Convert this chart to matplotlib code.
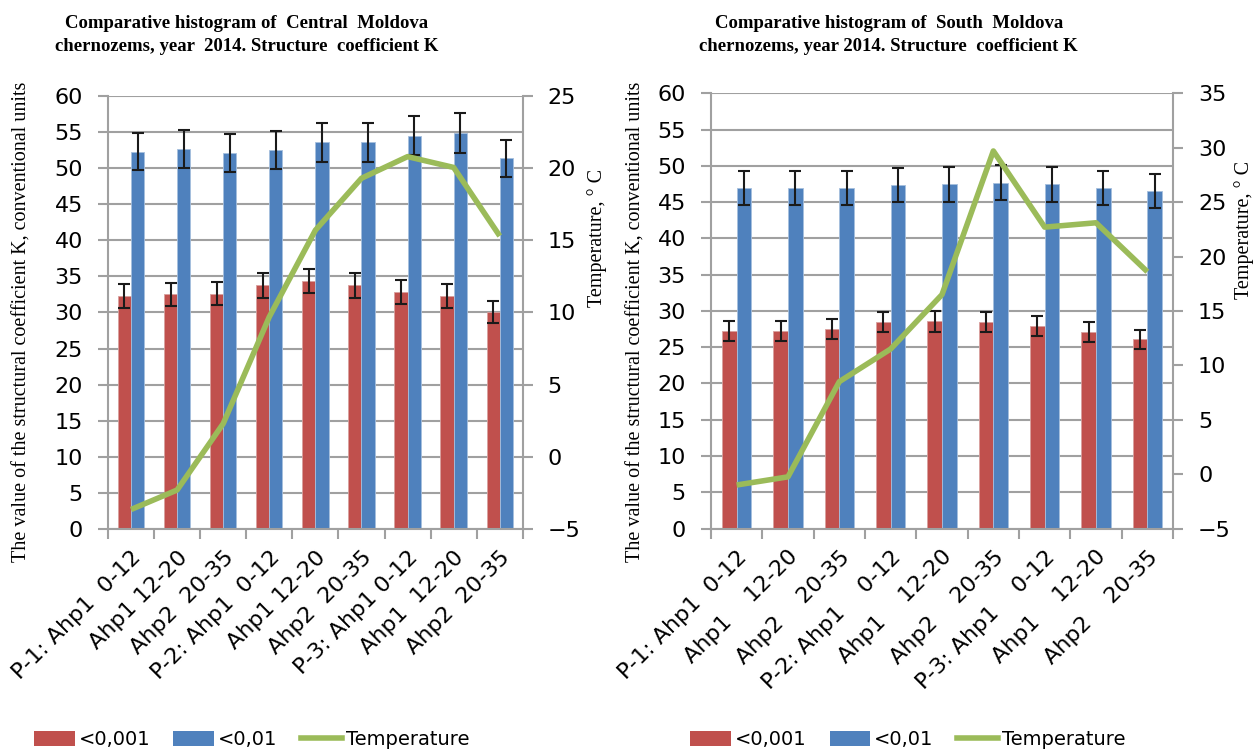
import numpy as np
import matplotlib
matplotlib.use('Agg')
import matplotlib.pyplot as plt
from matplotlib.patches import Patch
from matplotlib.lines import Line2D

# values (structure coefficient K, temperature)
labels_central = ['P-1: Ahp1  0-12', 'Ahp1 12-20', 'Ahp2  20-35',
                  'P-2: Ahp1  0-12', 'Ahp1 12-20', 'Ahp2  20-35',
                  'P-3: Ahp1 0-12', 'Ahp1  12-20', 'Ahp2  20-35']
k001_central = [32.3, 32.5, 32.6, 33.75, 34.35, 33.75, 32.8, 32.3, 30.1]
k01_central = [52.3, 52.6, 52.1, 52.5, 53.6, 53.6, 54.5, 54.85, 51.4]
temp_central = [-3.65, -2.3, 2.3, 9.7, 15.7, 19.3, 20.8, 20.05, 15.3]

labels_south = ['P-1: Ahp1  0-12', 'Ahp1    12-20', 'Ahp2    20-35',
                'P-2: Ahp1    0-12', 'Ahp1    12-20', 'Ahp2    20-35',
                'P-3: Ahp1    0-12', 'Ahp1    12-20', 'Ahp2    20-35']
k001_south = [27.2, 27.2, 27.45, 28.45, 28.55, 28.45, 27.9, 27.1, 26.1]
k01_south = [46.9, 46.9, 47.0, 47.35, 47.45, 47.7, 47.45, 46.9, 46.5]
temp_south = [-1.0, -0.25, 8.5, 11.5, 16.5, 29.7, 22.7, 23.1, 18.6]

err_pct = 0.05  # Excel percentage error bars

RED = '#C0504D'
BLUE = '#4F81BD'
GREEN = '#9BBB59'
GRID = '#A0A0A0'
SERIF = 'Liberation Serif'
SANS = 'DejaVu Sans'
TICKFS = 16

fig = plt.figure(figsize=(12.57, 7.53), dpi=100)


def panel(rect, labels, k001, k01, temp, tmax, title, tx, ylx, tlx, tly):
    ax = fig.add_axes(rect)
    x = np.arange(len(labels))
    w = 1 / 3.5
    k001 = np.array(k001)
    k01 = np.array(k01)
    ax.bar(x - w / 2, k001, w, color=RED, edgecolor='#D8A09E', linewidth=0.6, zorder=2)
    ax.bar(x + w / 2, k01, w, color=BLUE, edgecolor='#A5BFDE', linewidth=0.6, zorder=2)
    ax.errorbar(x - w / 2, k001, yerr=k001 * err_pct, fmt='none', ecolor='#1a1a1a',
                elinewidth=1.5, capsize=4, capthick=1.5, zorder=3)
    ax.errorbar(x + w / 2, k01, yerr=k01 * err_pct, fmt='none', ecolor='#1a1a1a',
                elinewidth=1.5, capsize=4, capthick=1.5, zorder=3)
    ax.set_xlim(-0.5, len(labels) - 0.5)
    ax.set_ylim(0, 60)
    ax.set_yticks(np.arange(0, 61, 5))
    ax.yaxis.grid(True, color=GRID, linewidth=1.5, zorder=0)
    ax.set_axisbelow(True)
    ax.set_xticks(x)
    ax.set_xticklabels(labels, rotation=45, ha='right', va='top', rotation_mode='anchor',
                       fontsize=TICKFS, family=SANS)
    ax.set_xticks(np.arange(-0.5, len(labels), 1), minor=True)
    ax.tick_params(axis='x', which='major', length=0, pad=13)
    ax.tick_params(axis='x', which='minor', length=7, width=1.5, color=GRID)
    ax.tick_params(axis='y', length=7, width=1.5, color=GRID, pad=11, labelsize=TICKFS)
    for s in ['top', 'right']:
        ax.spines[s].set_visible(False)
    for s in ['left', 'bottom']:
        ax.spines[s].set_color(GRID)
        ax.spines[s].set_linewidth(1.5)

    ax2 = ax.twinx()
    ax2.plot(x, temp, color=GREEN, linewidth=4, solid_capstyle='butt', zorder=4)
    ax2.set_ylim(-5, tmax)
    ax2.set_yticks(np.arange(-5, tmax + 1, 5))
    ax2.tick_params(axis='y', length=7, width=1.5, color=GRID, pad=11, labelsize=TICKFS)
    for s in ['top', 'left', 'bottom']:
        ax2.spines[s].set_visible(False)
    ax2.spines['right'].set_color(GRID)
    ax2.spines['right'].set_linewidth(1.5)

    fig.text(tx, 0.953, title, ha='center', va='center', fontsize=13.5,
             fontweight='bold', family=SERIF, linespacing=1.45)
    fig.text(ylx, 0.572, 'The value of the structural coefficient K, conventional units',
             rotation=90, ha='center', va='center', fontsize=14.5, family=SERIF)
    fig.text(tlx, tly, 'Temperature, ° C', rotation=90, ha='center', va='center',
             fontsize=14.5, family=SERIF)


panel([0.0859, 0.2975, 0.330, 0.575], labels_central, k001_central, k01_central,
      temp_central, 25,
      'Comparative histogram of  Central  Moldova\nchernozems, year  2014. Structure  coefficient K',
      0.196, 0.0175, 0.475, 0.684)
panel([0.5656, 0.2981, 0.3676, 0.578], labels_south, k001_south, k01_south,
      temp_south, 35,
      'Comparative histogram of  South  Moldova\nchernozems, year 2014. Structure  coefficient K',
      0.707, 0.506, 0.99, 0.695)

handles = [Patch(facecolor=RED), Patch(facecolor=BLUE), Line2D([], [], color=GREEN, linewidth=4)]
names = ['<0,001', '<0,01', 'Temperature']
for cx in [0.2, 0.722]:
    fig.legend(handles, names, loc='center', bbox_to_anchor=(cx, 0.018), ncol=3,
               frameon=False, prop={'family': SANS, 'size': 14},
               handlelength=2.1, handleheight=0.8, handletextpad=0.2, columnspacing=1.2)

fig.savefig('out.png', dpi=100)
